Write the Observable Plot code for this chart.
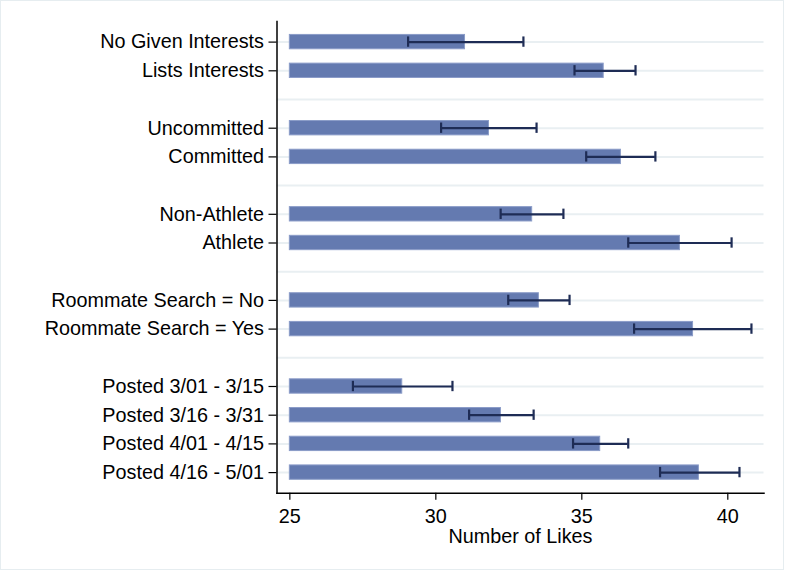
<!DOCTYPE html>
<html>
<head>
<meta charset="utf-8">
<script src="https://cdn.jsdelivr.net/npm/d3@7"></script>
<script src="https://cdn.jsdelivr.net/npm/@observablehq/plot@0.6"></script>
<style>
  html, body { margin: 0; padding: 0; background: #fff; }
  #wrap { position: relative; width: 785px; height: 570px; overflow: hidden; }
  #border { position: absolute; left: 0; top: 0; width: 784px; height: 570px; box-sizing: border-box;
            border: 1px solid #e6edf0; pointer-events: none; }
</style>
</head>
<body>
<div id="wrap"><div id="border"></div></div>
<script>
// ---- data ----
const groups = [
  ["No Given Interests", "Lists Interests"],
  ["Uncommitted", "Committed"],
  ["Non-Athlete", "Athlete"],
  ["Roommate Search = No", "Roommate Search = Yes"],
  ["Posted 3/01 - 3/15", "Posted 3/16 - 3/31", "Posted 4/01 - 4/15", "Posted 4/16 - 5/01"]
];
const labels = groups.flat();
const means = [31.0, 35.75, 31.82, 36.34, 33.30, 38.36, 33.53, 38.81, 28.85, 32.23, 35.63, 39.01];
const lower = [29.05, 34.75, 30.18, 35.15, 32.22, 36.59, 32.48, 36.79, 27.16, 31.14, 34.70, 37.68];
const upper = [33.0, 36.84, 33.45, 37.52, 34.37, 40.13, 34.58, 40.81, 30.57, 33.35, 36.59, 40.40];
const baseline = 25;
const xTicks = [25, 30, 35, 40];

// slots: categories with an empty slot between groups
const slots = [];
groups.forEach((g, i) => {
  if (i > 0) slots.push("gap" + i);
  slots.push(...g);
});
const rows = labels.map((label, i) => ({label, mean: means[i], lo: lower[i], hi: upper[i], base: baseline}));

const plot = Plot.plot({
  width: 785,
  height: 570,
  marginLeft: 276.5,
  marginRight: 21.5,
  marginTop: 21,
  marginBottom: 77.3,
  style: {fontFamily: "'Liberation Sans', Arial, sans-serif", fontSize: "19.8px", color: "#000", background: "transparent"},
  x: {domain: [24.56, 41.24]},
  y: {type: "band", domain: slots, paddingInner: 0.5, paddingOuter: 0.468, round: false},
  marks: [
    Plot.gridY(slots, {stroke: "#e9eff2", strokeOpacity: 1, strokeWidth: 2}),
    Plot.barX(rows, {x1: "base", x2: "mean", y: "label", fill: "#647ab0", stroke: "#8b9cc8", strokeWidth: 1}),
    Plot.ruleY(rows, {x1: "lo", x2: "hi", y: "label", stroke: "#1e2c55", strokeWidth: 2.2}),
    Plot.tickX(rows, {x: "lo", y: "label", stroke: "#1e2c55", strokeWidth: 2.2, insetTop: 2, insetBottom: 2}),
    Plot.tickX(rows, {x: "hi", y: "label", stroke: "#1e2c55", strokeWidth: 2.2, insetTop: 2, insetBottom: 2}),
    Plot.axisY({ticks: labels, tickSize: 8, tickPadding: 5, label: null, fontSize: 19.8, stroke: "#000", strokeWidth: 1.2}),
    Plot.axisX({ticks: xTicks, tickSize: 7, tickPadding: 8.5, label: null, fontSize: 19.8, stroke: "#000", strokeWidth: 1.2}),
    Plot.frame({anchor: "left", stroke: "#000", strokeWidth: 1.5}),
    Plot.frame({anchor: "bottom", stroke: "#000", strokeWidth: 1.5}),
    Plot.text(["Number of Likes"], {frameAnchor: "bottom", dy: 49.5, lineAnchor: "bottom", fontSize: 19.8, fill: "#000"})
  ]
});
document.getElementById("wrap").prepend(plot);
</script>
</body>
</html>
